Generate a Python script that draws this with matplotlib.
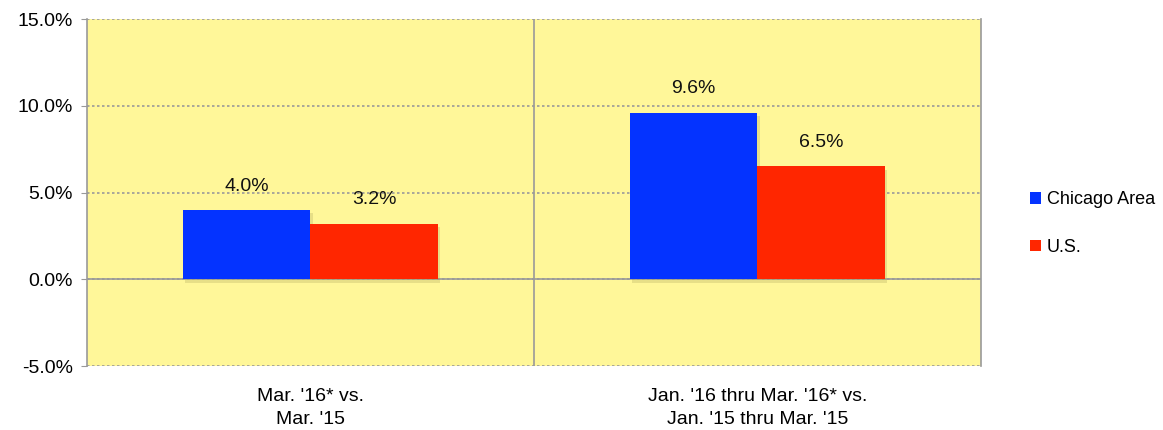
import matplotlib
matplotlib.use('Agg')
import matplotlib.pyplot as plt
import matplotlib.patheffects as pe
import numpy as np

plt.rcParams['font.family'] = ['Liberation Sans Narrow', 'Liberation Sans', 'DejaVu Sans']

categories = ["Mar. '16* vs.\nMar. '15", "Jan. '16 thru Mar. '16* vs.\nJan. '15 thru Mar. '15"]
chicago = [4.0, 9.6]
us = [3.2, 6.5]
series_names = ['Chicago Area', 'U.S.']
yticks = [-5, 0, 5, 10, 15]

fig = plt.figure(figsize=(11.63, 4.30), dpi=100)
ax = fig.add_axes([0.0748, 0.1488, 0.7687, 0.807])

x = np.arange(len(categories))
w = 0.286
shadow = [pe.SimplePatchShadow(offset=(1.5, -2.5), shadow_rgbFace='#b0a860', alpha=0.3), pe.Normal()]
b1 = ax.bar(x - w / 2, chicago, w, color='#0433ff', label=series_names[0], zorder=3, path_effects=shadow)
b2 = ax.bar(x + w / 2, us, w, color='#ff2600', label=series_names[1], zorder=3, path_effects=shadow)

for bars, vals in ((b1, chicago), (b2, us)):
    for bar, v in zip(bars, vals):
        ax.annotate('%.1f%%' % v, (bar.get_x() + bar.get_width() / 2, v),
                    xytext=(0, 11), textcoords='offset points',
                    ha='center', va='bottom', fontsize=14, color='#111111')

ax.set_xlim(-0.5, 1.5)
ax.set_ylim(-5, 15)
ax.set_facecolor('#fff799')
ax.set_yticks(yticks)
ax.set_yticklabels(['%.1f%%' % t for t in yticks], fontsize=14)
ax.set_xticks(x)
ax.set_xticklabels(categories, fontsize=14, linespacing=1.45)
ax.tick_params(axis='x', length=0, pad=16)
ax.tick_params(axis='y', length=4, color='#999999', pad=6)

ax.yaxis.grid(True, linestyle=(0, (1.5, 1.5)), color='#999999', linewidth=1.2, zorder=1)
ax.axhline(0, color='#999999', linewidth=1.2, zorder=2)
ax.axvline(0.5, color='#999999', linewidth=1.2, zorder=2)

for s in ('top', 'bottom'):
    ax.spines[s].set_visible(False)
ax.spines['left'].set_color('#999999')
ax.spines['right'].set_color('#999999')
ax.spines['left'].set_linewidth(1.2)
ax.spines['right'].set_linewidth(1.2)

leg = ax.legend(loc='center left', bbox_to_anchor=(1.037, 0.41), frameon=False, fontsize=13,
                handlelength=0.6, handleheight=0.6, handletextpad=0.3, labelspacing=1.7)
for h in leg.legend_handles:
    h.set_path_effects([])

fig.savefig('out.png', dpi=100)
